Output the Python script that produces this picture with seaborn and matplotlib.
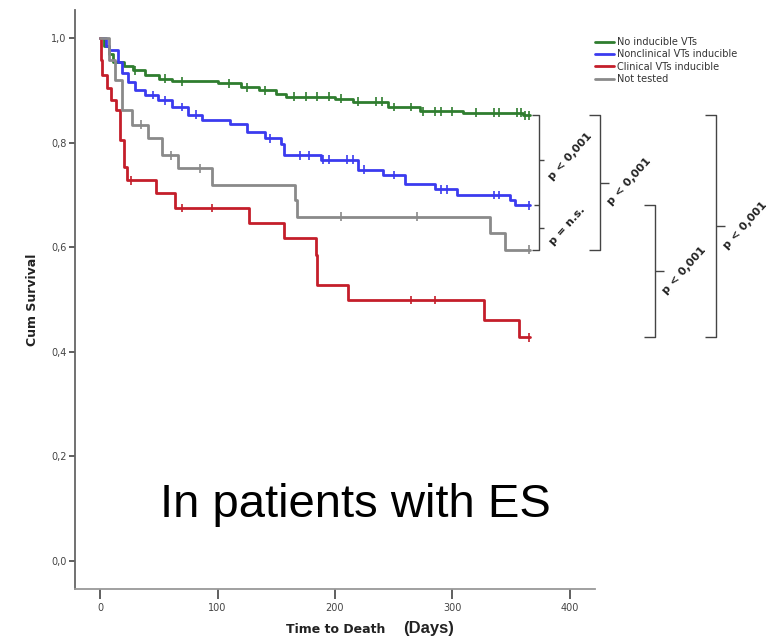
import numpy as np
import pandas as pd
import matplotlib
matplotlib.use("Agg")
import matplotlib.pyplot as plt
import seaborn as sns

# ---------------- data ----------------
groups = ["No inducible VTs", "Nonclinical VTs inducible",
          "Clinical VTs inducible", "Not tested"]
colors = ["#2f7d2f", "#3b3bef", "#c41e2a", "#8a8a8a"]

green_t = [0, 3, 8, 11, 20, 28, 38, 50, 61, 100, 120, 135, 150, 158, 200, 215,
           245, 272, 309, 360, 366]
green_s = [1.0, 0.985, 0.97, 0.955, 0.947, 0.938, 0.93, 0.922, 0.917, 0.913,
           0.906, 0.90, 0.893, 0.888, 0.884, 0.878, 0.868, 0.86, 0.857, 0.852, 0.852]

blue_t = [0, 5, 8, 15, 19, 24, 30, 38, 49, 61, 75, 87, 111, 125, 140, 154, 157,
          188, 220, 241, 260, 285, 304, 349, 353, 366]
blue_s = [1.0, 0.985, 0.977, 0.954, 0.933, 0.916, 0.90, 0.891, 0.881, 0.868,
          0.853, 0.843, 0.835, 0.82, 0.808, 0.797, 0.776, 0.767, 0.748, 0.738,
          0.721, 0.711, 0.70, 0.69, 0.68, 0.68]

red_t = [0, 1, 2, 6, 9, 14, 17, 20, 23, 48, 64, 127, 157, 184, 185, 211, 327,
         357, 366]
red_s = [1.0, 0.958, 0.929, 0.904, 0.881, 0.862, 0.805, 0.753, 0.728, 0.703,
         0.675, 0.646, 0.617, 0.585, 0.528, 0.499, 0.461, 0.428, 0.428]

gray_t = [0, 8, 13, 19, 27, 41, 53, 66, 95, 166, 168, 332, 345, 366]
gray_s = [1.0, 0.958, 0.92, 0.862, 0.834, 0.809, 0.776, 0.751, 0.719, 0.69,
          0.658, 0.627, 0.595, 0.595]

green_cens = [30, 55, 70, 110, 125, 140, 165, 175, 185, 195, 205, 220, 235, 240,
              250, 265, 275, 285, 290, 300, 320, 335, 340, 355, 358, 362, 365]
blue_cens = [45, 55, 70, 82, 145, 170, 178, 190, 195, 210, 215, 225, 250, 290,
             295, 335, 340, 365]
red_cens = [26, 70, 95, 265, 285, 365]
gray_cens = [35, 60, 85, 205, 270, 365]

xticks = [0, 100, 200, 300, 400]
yticks = [0.0, 0.2, 0.4, 0.6, 0.8, 1.0]
ytick_labels = ["0,0", "0,2", "0,4", "0,6", "0,8", "1,0"]

# comparisons: (top group idx, bottom group idx, label)
brackets = [
    (0, 3, "p < 0,001"),   # green vs gray
    (1, 2, "p < 0,001"),   # blue vs red
    (0, 2, "p < 0,001"),   # green vs red
]

# ---------------- frames ----------------
series = [(green_t, green_s), (blue_t, blue_s), (red_t, red_s), (gray_t, gray_s)]
cens = [green_cens, blue_cens, red_cens, gray_cens]

rows = []
crow = []
for g, (t, s), c in zip(groups, series, cens):
    for ti, si in zip(t, s):
        rows.append((g, ti, si))
    t_arr = np.array(t)
    s_arr = np.array(s)
    for ct in c:
        idx = np.searchsorted(t_arr, ct, side="right") - 1
        crow.append((g, ct, s_arr[idx]))
df = pd.DataFrame(rows, columns=["group", "time", "surv"])
cdf = pd.DataFrame(crow, columns=["group", "time", "surv"])
end_vals = [s[-1] for _, s in series]

# ---------------- plot ----------------
sns.set_style("white")
plt.rcParams["font.family"] = ["DejaVu Sans"]

fig = plt.figure(figsize=(7.75, 6.37), dpi=100)
ax = fig.add_axes([75 / 775, 1 - 589 / 637, 520 / 775, 579 / 637])

palette = dict(zip(groups, colors))
sns.lineplot(data=df, x="time", y="surv", hue="group", hue_order=groups,
             palette=palette, estimator=None, sort=True,
             drawstyle="steps-post", linewidth=2.0, ax=ax, legend=True)
sns.scatterplot(data=cdf, x="time", y="surv", hue="group", hue_order=groups,
                palette=palette, marker="|", s=40, linewidth=1.2, ax=ax,
                legend=False)

ax.set_xlim(-21.3, 421.3)
ax.set_ylim(-0.0535, 1.0535)
ax.set_xticks(xticks)
ax.set_xticklabels([str(v) for v in xticks])
ax.set_yticks(yticks)
ax.set_yticklabels(ytick_labels)
ax.tick_params(axis="x", direction="out", length=7, width=1.2, pad=3,
               labelsize=7, colors="#444444", bottom=True)
ax.tick_params(axis="y", direction="out", length=4, width=1.2, pad=2,
               labelsize=7, colors="#444444", left=True)
for side in ["top", "right"]:
    ax.spines[side].set_visible(False)
ax.spines["left"].set_color("#666666")
ax.spines["bottom"].set_color("#999999")
ax.spines["left"].set_linewidth(1.3)
ax.spines["bottom"].set_linewidth(1.3)

ax.set_ylabel("Cum Survival", fontsize=9, fontweight="bold", color="#222222")
ax.yaxis.set_label_coords(-0.069, 0.5)
ax.set_xlabel("Time to Death", fontsize=9, fontweight="bold", color="#222222")
ax.xaxis.label.set_va("baseline")
ax.xaxis.set_label_coords(0.502, -(633 - 589) / 579)
fig.text(403 / 775, 1 - 633 / 637, "(Days)", fontsize=12, fontweight="bold",
         family="Liberation Sans", color="#222222", ha="left", va="baseline")

# legend
handles, labels = ax.get_legend_handles_labels()
ax.legend(handles[-4:], labels[-4:], loc="upper left",
          bbox_to_anchor=(595 / 775, 1 - 37 / 637),
          bbox_transform=fig.transFigure, frameon=False, fontsize=7,
          handlelength=2.0, handletextpad=0.3, labelspacing=0.25,
          borderaxespad=0, borderpad=0)
for txt in ax.get_legend().get_texts():
    txt.set_color("#333333")

# big caption
fig.text(355 / 775, 1 - 517 / 637, "In patients with ES", fontsize=34,
         family="Liberation Sans", ha="center", va="baseline", color="black")

# brackets
bc = "#444444"
kw = dict(color=bc, lw=1.0, clip_on=False, solid_capstyle="butt")
hook = 6
tick = 8
# bracket 1: green-blue-gray
x1 = 373.6
yg, yb, yr, ygr = end_vals
ax.plot([x1 - hook, x1, x1, x1 - hook], [yg, yg, ygr, ygr], **kw)
ax.plot([x1 - 4, x1], [yb, yb], **kw)
ax.plot([x1, x1 + 4], [(yg + yb) / 2, (yg + yb) / 2], **kw)
ax.plot([x1, x1 + 4], [(yb + ygr) / 2, (yb + ygr) / 2], **kw)
ax.text(x1 + 27, (yg + yb) / 2 + 0.008, "p < 0,001", rotation=48, fontsize=8,
        fontweight="bold", ha="center", va="center", color="#222222")
ax.text(x1 + 24, (yb + ygr) / 2 + 0.003, "p = n.s.", rotation=48, fontsize=8,
        fontweight="bold", ha="center", va="center", color="#222222")

bx = [425.5, 472.3, 524.3]
for xb, (ti, bi, lab) in zip(bx, brackets):
    yt, ybm = end_vals[ti], end_vals[bi]
    ax.plot([xb - 9, xb, xb, xb - 9], [yt, yt, ybm, ybm], **kw)
    ym = (yt + ybm) / 2
    ax.plot([xb, xb + tick], [ym, ym], **kw)
    ax.text(xb + 25, ym + 0.002, lab, rotation=48, fontsize=8,
            fontweight="bold", ha="center", va="center", color="#222222")

fig.savefig("out.png", dpi=100)
